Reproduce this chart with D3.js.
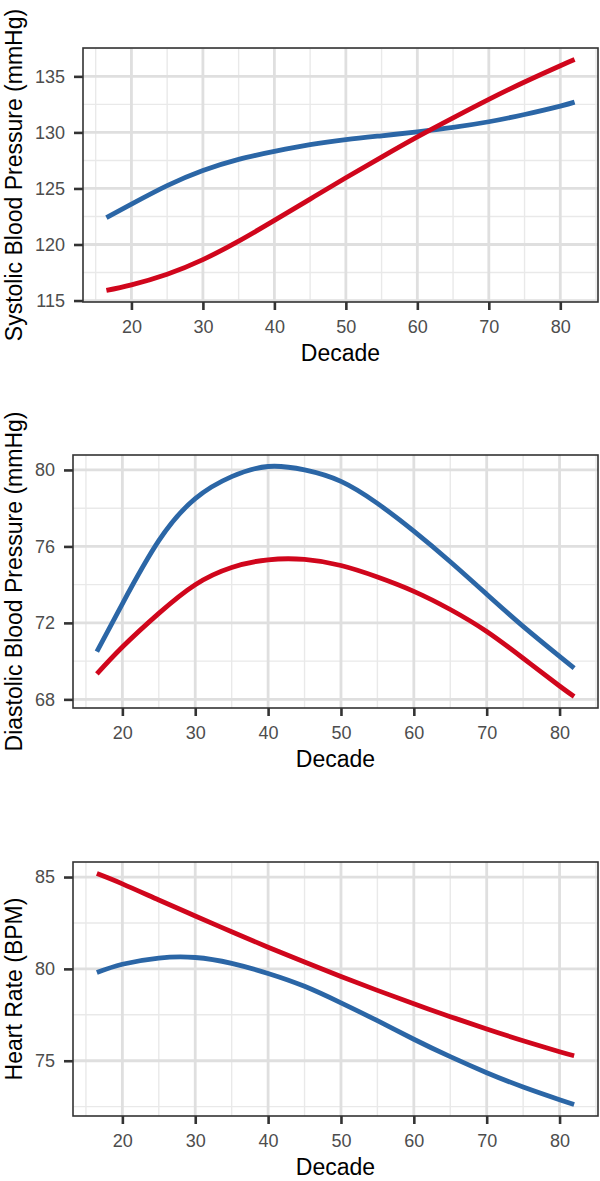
<!DOCTYPE html>
<html>
<head>
<meta charset="utf-8">
<script src="https://cdn.jsdelivr.net/npm/d3@7"></script>
<style>
  body { margin: 0; background: #fff; }
  svg { display: block; font-family: "Liberation Sans", Arial, sans-serif; }
</style>
</head>
<body>
<svg id="chart" width="600" height="1181"></svg>
<script>
// age (decade) at which the fitted curves were read
var decades = [16.5, 20, 25, 30, 35, 40, 45, 50, 55, 60, 65, 70, 75, 80, 82];

// systolic blood pressure (mmHg)
var sbpBlue = [122.4, 123.6, 125.25, 126.6, 127.6, 128.3, 128.9, 129.35, 129.7, 130.05, 130.45, 130.95, 131.6, 132.35, 132.7];
var sbpRed  = [115.9, 116.4, 117.35, 118.65, 120.3, 122.15, 124.05, 125.95, 127.8, 129.6, 131.3, 132.95, 134.5, 135.95, 136.5];

// diastolic blood pressure (mmHg)
var dbpBlue = [70.5, 73.0, 76.3, 78.5, 79.65, 80.18, 80.0, 79.4, 78.25, 76.8, 75.2, 73.5, 71.82, 70.25, 69.63];
var dbpRed  = [69.33, 70.74, 72.5, 74.0, 74.9, 75.3, 75.32, 75.0, 74.4, 73.65, 72.7, 71.55, 70.15, 68.7, 68.15];

// heart rate (BPM)
var hrBlue = [79.8, 80.25, 80.59, 80.62, 80.3, 79.75, 79.05, 78.15, 77.18, 76.17, 75.22, 74.35, 73.57, 72.88, 72.62];
var hrRed  = [85.19, 84.63, 83.75, 82.88, 82.02, 81.18, 80.37, 79.59, 78.83, 78.1, 77.4, 76.73, 76.09, 75.49, 75.27];

// tick labels
var xTicks = [20, 30, 40, 50, 60, 70, 80];
var sbpTicks = [115, 120, 125, 130, 135];
var dbpTicks = [68, 72, 76, 80];
var hrTicks = [75, 80, 85];

var blue = "#2b66a6",
    red = "#d0061c";

var svg = d3.select("#chart");

// one entry per panel: data + where it sits on the page
var panels = [
  {title: "Systolic Blood Pressure (mmHg)", blue: sbpBlue, red: sbpRed, ticks: sbpTicks,
   left: 83, right: 598, top: 48, bottom: 302},
  {title: "Diastolic Blood Pressure (mmHg)", blue: dbpBlue, red: dbpRed, ticks: dbpTicks,
   left: 73, right: 598, top: 455, bottom: 708},
  {title: "Heart Rate (BPM)", blue: hrBlue, red: hrRed, ticks: hrTicks,
   left: 73, right: 598, top: 862, bottom: 1116}
];

// ggplot-style 5% expansion
function expand(ext) {
  var pad = (ext[1] - ext[0]) * 0.05;
  return [ext[0] - pad, ext[1] + pad];
}

// minor breaks half way between majors, one step beyond each end
function minors(ticks) {
  var step = ticks[1] - ticks[0], out = [];
  for (var v = ticks[0] - step / 2; v <= ticks[ticks.length - 1] + step; v += step) out.push(v);
  return out;
}

panels.forEach(function(p, i) {
  var x = d3.scaleLinear().domain(expand(d3.extent(decades))).range([p.left, p.right]);
  var y = d3.scaleLinear().domain(expand(d3.extent(p.blue.concat(p.red)))).range([p.bottom, p.top]);

  var g = svg.append("g");

  g.append("clipPath").attr("id", "clip" + i)
    .append("rect")
      .attr("x", p.left).attr("y", p.top)
      .attr("width", p.right - p.left).attr("height", p.bottom - p.top);

  var grid = g.append("g").attr("clip-path", "url(#clip" + i + ")");

  // minor grid
  grid.selectAll(".vminor").data(minors(xTicks)).enter().append("line")
    .attr("x1", function(d) { return x(d); }).attr("x2", function(d) { return x(d); })
    .attr("y1", p.top).attr("y2", p.bottom)
    .attr("stroke", "#e9e9e9").attr("stroke-width", 1.4);
  grid.selectAll(".hminor").data(minors(p.ticks)).enter().append("line")
    .attr("y1", function(d) { return y(d); }).attr("y2", function(d) { return y(d); })
    .attr("x1", p.left).attr("x2", p.right)
    .attr("stroke", "#e9e9e9").attr("stroke-width", 1.4);

  // major grid
  grid.selectAll(".vmajor").data(xTicks).enter().append("line")
    .attr("x1", function(d) { return x(d); }).attr("x2", function(d) { return x(d); })
    .attr("y1", p.top).attr("y2", p.bottom)
    .attr("stroke", "#dfdfdf").attr("stroke-width", 2.8);
  grid.selectAll(".hmajor").data(p.ticks).enter().append("line")
    .attr("y1", function(d) { return y(d); }).attr("y2", function(d) { return y(d); })
    .attr("x1", p.left).attr("x2", p.right)
    .attr("stroke", "#dfdfdf").attr("stroke-width", 2.8);

  // curves
  var line = d3.line()
    .x(function(d, k) { return x(decades[k]); })
    .y(function(d) { return y(d); })
    .curve(d3.curveNatural);

  [[p.blue, blue], [p.red, red]].forEach(function(s) {
    g.append("path")
      .attr("d", line(s[0]))
      .attr("fill", "none")
      .attr("stroke", s[1])
      .attr("stroke-width", 4.8);
  });

  // panel border
  g.append("rect")
    .attr("x", p.left).attr("y", p.top)
    .attr("width", p.right - p.left).attr("height", p.bottom - p.top)
    .attr("fill", "none").attr("stroke", "#333").attr("stroke-width", 1.6);

  // axes
  var xAxis = d3.axisBottom(x).tickValues(xTicks).tickSize(8).tickPadding(10);
  var yAxis = d3.axisLeft(y).tickValues(p.ticks).tickSize(9).tickPadding(9);

  var gx = g.append("g").attr("transform", "translate(0," + p.bottom + ")").call(xAxis);
  var gy = g.append("g").attr("transform", "translate(" + p.left + ",0)").call(yAxis);

  [gx, gy].forEach(function(a) {
    a.select(".domain").remove();
    a.selectAll(".tick line").attr("stroke", "#333").attr("stroke-width", 2.6);
    a.selectAll(".tick text")
      .attr("fill", "#4d4d4d")
      .style("font-size", "18px")
      .style("font-family", "'Liberation Sans', Arial, sans-serif");
  });

  // axis titles
  g.append("text")
    .attr("x", (p.left + p.right) / 2)
    .attr("y", p.bottom + 59)
    .attr("text-anchor", "middle")
    .style("font-size", "23px")
    .attr("fill", "#000")
    .text("Decade");

  g.append("text")
    .attr("transform", "translate(22," + ((p.top + p.bottom) / 2) + ") rotate(-90)")
    .attr("text-anchor", "middle")
    .style("font-size", "23px")
    .attr("fill", "#000")
    .text(p.title);
});
</script>
</body>
</html>
